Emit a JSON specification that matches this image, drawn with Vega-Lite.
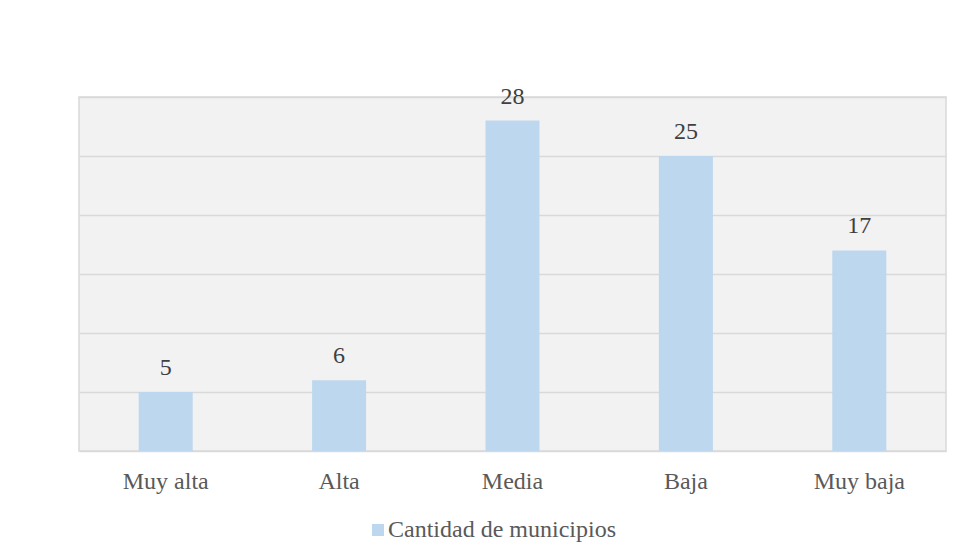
{
  "$schema": "https://vega.github.io/schema/vega-lite/v6.json",
  "width": 867,
  "height": 354,
  "autosize": {"type": "none"},
  "padding": {"left": 79, "top": 97, "right": 11, "bottom": 109},
  "background": "white",
  "config": {
    "font": "Liberation Serif, DejaVu Serif, serif",
    "view": {"fill": "#f2f2f2", "stroke": "#d9d9d9", "strokeWidth": 1.5}
  },
  "data": {
    "values": [
      {"categoria": "Muy alta", "cantidad": 5, "serie": "Cantidad de municipios"},
      {"categoria": "Alta", "cantidad": 6, "serie": "Cantidad de municipios"},
      {"categoria": "Media", "cantidad": 28, "serie": "Cantidad de municipios"},
      {"categoria": "Baja", "cantidad": 25, "serie": "Cantidad de municipios"},
      {"categoria": "Muy baja", "cantidad": 17, "serie": "Cantidad de municipios"}
    ]
  },
  "encoding": {
    "x": {
      "field": "categoria",
      "type": "nominal",
      "sort": null,
      "title": null,
      "axis": {
        "labelAngle": 0,
        "labelFontSize": 24,
        "labelColor": "#595959",
        "labelPadding": 18,
        "ticks": false,
        "domain": false,
        "labelFont": "Liberation Serif, DejaVu Serif, serif"
      }
    },
    "y": {
      "field": "cantidad",
      "type": "quantitative",
      "scale": {"domain": [0, 30], "nice": false},
      "title": null,
      "axis": {
        "values": [0, 5, 10, 15, 20, 25, 30],
        "labels": false,
        "ticks": false,
        "domain": false,
        "grid": true,
        "gridColor": "#d9d9d9",
        "gridWidth": 1.5
      }
    }
  },
  "layer": [
    {
      "mark": {"type": "bar", "size": 54},
      "encoding": {
        "color": {
          "field": "serie",
          "type": "nominal",
          "scale": {"range": ["#bdd7ee"]},
          "legend": {
            "title": null,
            "orient": "none",
            "legendX": 287,
            "legendY": 421,
            "symbolType": "square",
            "symbolSize": 144,
            "symbolStrokeWidth": 0,
            "labelFontSize": 24,
            "labelColor": "#595959",
            "labelFont": "Liberation Serif, DejaVu Serif, serif",
            "labelOffset": -2,
            "labelLimit": 500
          }
        }
      }
    },
    {
      "mark": {
        "type": "text",
        "dy": -24,
        "fontSize": 24,
        "color": "#404040",
        "font": "Liberation Serif, DejaVu Serif, serif"
      },
      "encoding": {"text": {"field": "cantidad", "type": "quantitative"}}
    }
  ]
}
